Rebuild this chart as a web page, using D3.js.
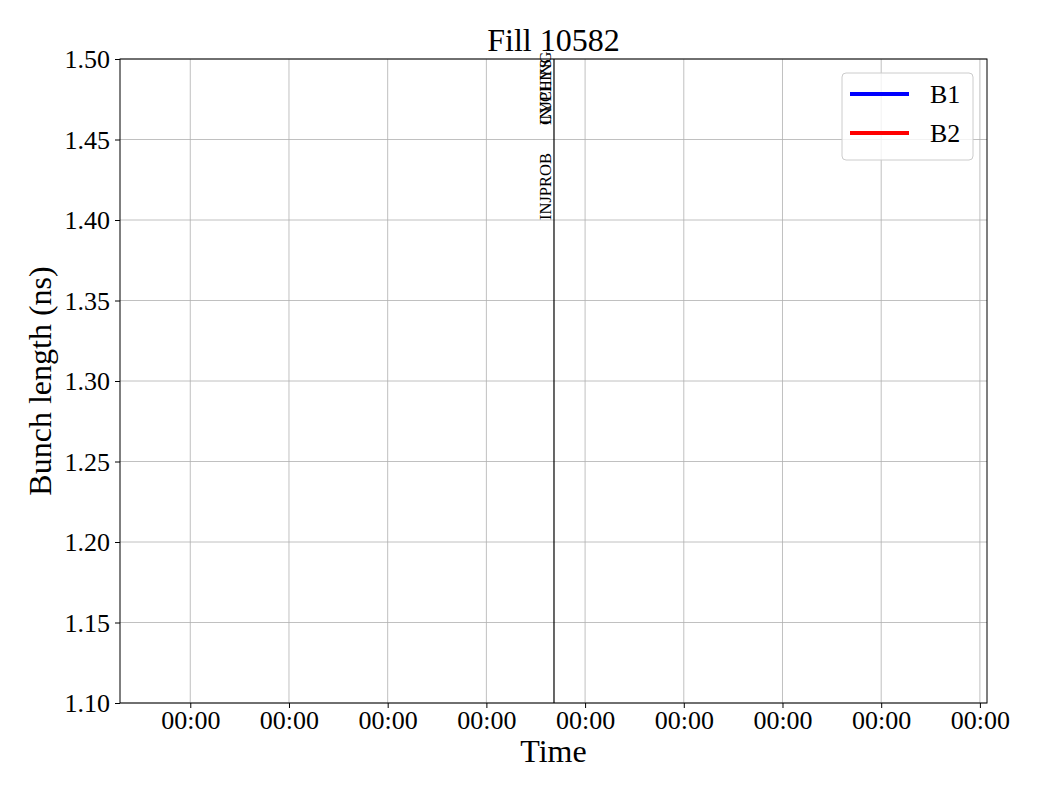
<!DOCTYPE html>
<html>
<head>
<meta charset="utf-8">
<script src="https://cdn.jsdelivr.net/npm/d3@7"></script>
<style>
  body { margin: 0; background: #fff; }
  text { font-family: "Liberation Serif", "DejaVu Serif", serif; fill: #000; }
</style>
</head>
<body>
<script>
// data
const title = 'Fill 10582';
const yLabel = 'Bunch length (ns)';
const xLabel = 'Time';
const xTicks = [1, 2, 3, 4, 5, 6, 7, 8, 9];
const xTickLabels = ['00:00', '00:00', '00:00', '00:00', '00:00', '00:00', '00:00', '00:00', '00:00'];
const yTicks = [1.10, 1.15, 1.20, 1.25, 1.30, 1.35, 1.40, 1.45, 1.50];
const xDomain = [0.288, 9.072];
const yDomain = [1.10, 1.50];
const seriesNames = ['B1', 'B2'];
const seriesColors = ['#0000ff', '#ff0000'];
const b1Values = [];   // nothing falls inside the view
const b2Values = [];
const eventTime = 4.685;
const eventNames = ['INJPROB', 'CYCLING', 'INJPHYS'];
const eventY = [1.4, 1.459, 1.459];

const width = 1040, height = 800;
const margin = { top: 59, right: 53, bottom: 97, left: 120 };

const svg = d3.select('body').append('svg')
    .attr('width', width)
    .attr('height', height);

const x = d3.scaleLinear().domain(xDomain).range([margin.left, width - margin.right]);
const y = d3.scaleLinear().domain(yDomain).range([height - margin.bottom, margin.top]);

// grid
svg.append('g')
    .selectAll('line')
    .data(xTicks)
    .join('line')
    .attr('x1', d => x(d)).attr('x2', d => x(d))
    .attr('y1', y(yDomain[0])).attr('y2', y(yDomain[1]))
    .attr('stroke', '#b0b0b0').attr('stroke-width', 0.8);

svg.append('g')
    .selectAll('line')
    .data(yTicks)
    .join('line')
    .attr('x1', x(xDomain[0])).attr('x2', x(xDomain[1]))
    .attr('y1', d => y(d)).attr('y2', d => y(d))
    .attr('stroke', '#b0b0b0').attr('stroke-width', 0.8);

// series lines (empty)
const line = d3.line().x(d => x(d[0])).y(d => y(d[1]));
[b1Values, b2Values].forEach((vals, i) => {
    svg.append('path')
        .datum(vals)
        .attr('fill', 'none')
        .attr('stroke', seriesColors[i])
        .attr('stroke-width', 2)
        .attr('d', line);
});

// event marker
svg.append('line')
    .attr('x1', x(eventTime)).attr('x2', x(eventTime))
    .attr('y1', y(yDomain[0])).attr('y2', y(yDomain[1]))
    .attr('stroke', '#000').attr('stroke-width', 1.2);

svg.append('g')
    .selectAll('text')
    .data(eventNames)
    .join('text')
    .attr('transform', (d, i) => `translate(${x(eventTime) - 3},${y(eventY[i])}) rotate(-90)`)
    .attr('font-size', 16.5)
    .text(d => d);

// axes
const xAxis = d3.axisBottom(x)
    .tickValues(xTicks)
    .tickFormat((d, i) => xTickLabels[i])
    .tickSize(5)
    .tickPadding(3);
const gx = svg.append('g')
    .attr('transform', `translate(0,${height - margin.bottom})`)
    .call(xAxis);

const yAxis = d3.axisLeft(y)
    .tickValues(yTicks)
    .tickFormat(d3.format('.2f'))
    .tickSize(5)
    .tickPadding(5);
const gy = svg.append('g')
    .attr('transform', `translate(${margin.left},0)`)
    .call(yAxis);

[gx, gy].forEach(g => {
    g.select('.domain').remove();
    g.selectAll('.tick line').attr('stroke', '#000').attr('stroke-width', 1);
    g.selectAll('.tick text')
        .attr('font-family', '"Liberation Serif", serif')
        .attr('font-size', 26)
        .attr('fill', '#000');
});
gy.selectAll('.tick text').attr('dy', '0.33em');

// spines
svg.append('rect')
    .attr('x', x(xDomain[0])).attr('y', y(yDomain[1]))
    .attr('width', x(xDomain[1]) - x(xDomain[0]))
    .attr('height', y(yDomain[0]) - y(yDomain[1]))
    .attr('fill', 'none')
    .attr('stroke', '#000')
    .attr('stroke-width', 1);

// title and labels
svg.append('text')
    .attr('x', (x(xDomain[0]) + x(xDomain[1])) / 2)
    .attr('y', 51)
    .attr('text-anchor', 'middle')
    .attr('font-size', 32)
    .text(title);

svg.append('text')
    .attr('x', (x(xDomain[0]) + x(xDomain[1])) / 2)
    .attr('y', 762)
    .attr('text-anchor', 'middle')
    .attr('font-size', 32)
    .text(xLabel);

svg.append('text')
    .attr('transform', `translate(51,${(y(yDomain[0]) + y(yDomain[1])) / 2}) rotate(-90)`)
    .attr('text-anchor', 'middle')
    .attr('font-size', 32)
    .text(yLabel);

// legend
const legend = svg.append('g').attr('transform', 'translate(842,73)');
legend.append('rect')
    .attr('width', 131).attr('height', 87)
    .attr('rx', 4)
    .attr('fill', '#fff').attr('fill-opacity', 0.8)
    .attr('stroke', '#cccccc').attr('stroke-width', 1);

seriesNames.forEach((name, i) => {
    const row = legend.append('g').attr('transform', `translate(0,${21 + i * 39})`);
    row.append('line')
        .attr('x1', 8).attr('x2', 67)
        .attr('stroke', seriesColors[i]).attr('stroke-width', 4);
    row.append('text')
        .attr('x', 88).attr('y', 9)
        .attr('font-size', 26)
        .text(name);
});
</script>
</body>
</html>
